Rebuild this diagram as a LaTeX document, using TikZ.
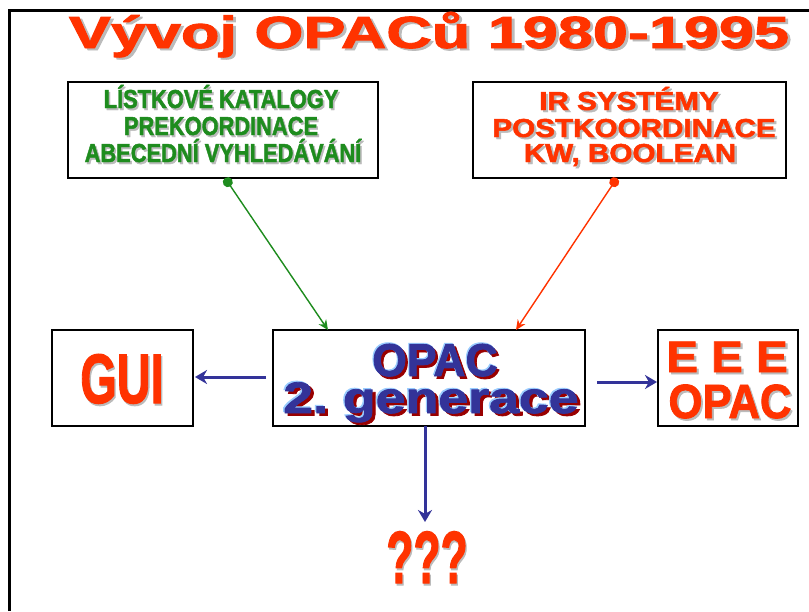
\documentclass[tikz,border=0pt]{standalone}
\usepackage{fontspec}
\newfontfamily\hv{Liberation Sans}[FakeBold=1.8]
\usetikzlibrary{arrows.meta,calc}
\definecolor{tred}{HTML}{FF3300}
\definecolor{tgreen}{HTML}{1E8C1E}
\definecolor{tblue}{HTML}{333399}
\definecolor{lblue}{HTML}{99CCFF}
\definecolor{dred}{HTML}{990000}
\definecolor{shgray}{HTML}{BBBBBB}
\newcommand\fs[1]{\hv\bfseries\fontsize{#1}{#1}\selectfont}
% gray-shadowed text: xscale, colour, text
\newcommand\shd[3]{\scalebox{#1}[1]{\rlap{\hspace{2pt}\raisebox{-2pt}{\color{shgray}#3}}\textcolor{#2}{#3}}}
% blue text with dark red shadow and light blue highlight
\newcommand\bld[2]{\scalebox{#1}[1]{\rlap{\hspace{2.5pt}\raisebox{-2.5pt}{\color{dred}#2}}\rlap{\hspace{-1.2pt}\raisebox{1.2pt}{\color{lblue}#2}}\textcolor{tblue}{#2}}}
\begin{document}
\begin{tikzpicture}[x=1pt,y=-1pt,
  txt/.style={inner sep=0pt,anchor=base},
  box/.style={draw=black,line width=1.5pt,fill=white},
  thin/.style={line width=1.4pt,{Circle[length=10pt]}-{Stealth[length=10pt,width=9pt]}},
  fat/.style={draw=tblue,line width=3pt,-{Stealth[length=12pt,width=14pt]}}]
\useasboundingbox (0,0) rectangle (809,611);
\fill[white] (0,0) rectangle (809,611);
\draw[line width=3pt] (9,611) -- (9,10) -- (809,10);
% boxes
\node[box,minimum width=310pt,minimum height=96pt] (green) at (223,130) {};
\node[box,minimum width=313pt,minimum height=96pt] (red) at (629.5,130) {};
\node[box,minimum width=141pt,minimum height=96pt] (gui) at (122.5,378) {};
\node[box,minimum width=312pt,minimum height=96pt] (opac) at (429,378) {};
\node[box,minimum width=140pt,minimum height=96pt] (eee) at (728,378) {};
% title
\node[txt,font=\fs{45}] (title) at (429,48) {\shd{1.4}{tred}{Vývoj OPACů 1980-1995}};
% green text
\node[txt,font=\fs{26}] (g1) at (221,108) {\shd{0.84}{tgreen}{LÍSTKOVÉ KATALOGY}};
\node[txt,font=\fs{26}] (g2) at (221,135) {\shd{0.84}{tgreen}{PREKOORDINACE}};
\node[txt,font=\fs{26}] (g3) at (223,162) {\shd{0.84}{tgreen}{ABECEDNÍ VYHLEDÁVÁNÍ}};
% red text
\node[txt,font=\fs{26}] (r1) at (629,110) {\shd{1.14}{tred}{IR SYSTÉMY}};
\node[txt,font=\fs{26}] (r2) at (634,137) {\shd{1.14}{tred}{POSTKOORDINACE}};
\node[txt,font=\fs{26}] (r3) at (630,162) {\shd{1.14}{tred}{KW, BOOLEAN}};
% center
\node[txt,font=\fs{46}] (o1) at (435,376) {\bld{0.97}{OPAC}};
\node[txt,font=\fs{44}] (o2) at (431,413) {\bld{1.22}{2.\ generace}};
% gui and eee
\node[txt,font=\fs{70}] (gt) at (122,403) {\shd{0.67}{tred}{GUI}};
\node[txt,font=\fs{44}] (e1) at (727,372) {\shd{1.08}{tred}{E E E}};
\node[txt,font=\fs{48}] (e2) at (730,418) {\shd{0.91}{tred}{OPAC}};
% question marks
\node[txt,font=\fs{74}] (q) at (427,583) {\shd{0.6}{tred}{???}};
% connectors
\coordinate (gstart) at (225,178);
\coordinate (gend) at (328,330);
\coordinate (rstart) at (617,178);
\coordinate (rend) at (516,330);
\draw[thin,draw=tgreen,fill=tgreen] (gstart) -- (gend);
\draw[thin,draw=tred,fill=tred] (rstart) -- (rend);
\coordinate (la) at (266,377);
\coordinate (lb) at (195,377);
\coordinate (ra) at (597,382);
\coordinate (rb) at (657,382);
\coordinate (da) at (425,426);
\coordinate (db) at (425,522);
\draw[fat] (la) -- (lb);
\draw[fat] (ra) -- (rb);
\draw[fat] (da) -- (db);
\end{tikzpicture}
\end{document}
